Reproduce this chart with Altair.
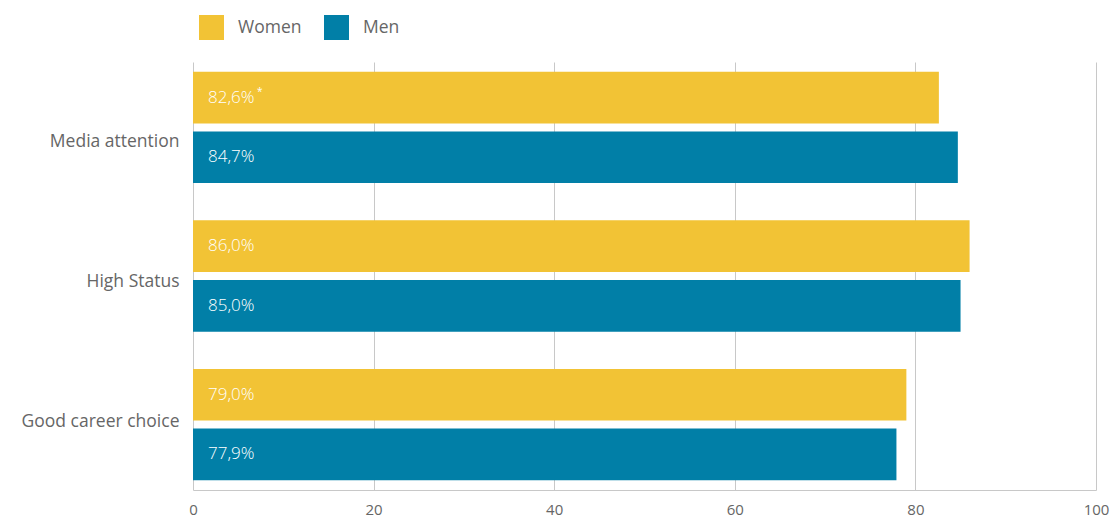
import altair as alt
import pandas as pd

# Survey shares by perception and gender (percent)
categories = ["Media attention", "High Status", "Good career choice"]
genders = ["Women", "Men"]
women_values = [82.6, 86.0, 79.0]
men_values = [84.7, 85.0, 77.9]
women_notes = ["*", "", ""]
men_notes = ["", "", ""]
x_ticks = [0, 20, 40, 60, 80, 100]
colors = ["#F2C335", "#017FA7"]

rows = []
for i, cat in enumerate(categories):
    rows.append({"category": cat, "gender": "Women", "value": women_values[i], "note": women_notes[i]})
    rows.append({"category": cat, "gender": "Men", "value": men_values[i], "note": men_notes[i]})
df = pd.DataFrame(rows)

FONT = "Open Sans"
GREY = "#666666"

y_enc = alt.Y(
    "category:N",
    sort=categories,
    scale=alt.Scale(paddingInner=0.25, paddingOuter=0.065),
    axis=alt.Axis(title=None, domain=False, ticks=False, labelPadding=14,
                  labelFontSize=17.5, labelColor=GREY, labelFont=FONT,
                  labelFontWeight=400,
                  labelOffset=alt.expr(
                      "datum.value == 'Media attention' ? 15 : "
                      "datum.value == 'High Status' ? 6 : -3")),
)
yoff_enc = alt.YOffset("gender:N", sort=genders,
                       scale=alt.Scale(paddingInner=0.134, paddingOuter=0))

base = alt.Chart(df).encode(y=y_enc, yOffset=yoff_enc)

bars = base.mark_bar().encode(
    x=alt.X(
        "value:Q",
        scale=alt.Scale(domain=[0, 100], nice=False),
        axis=alt.Axis(title=None, values=x_ticks, ticks=False, domain=True,
                      domainColor="#c8c8c8", gridColor="#c8c8c8", grid=True,
                      labelFlush=False, labelPadding=12, labelFontSize=15,
                      labelColor=GREY, labelFont=FONT, labelFontWeight=400),
    ),
    color=alt.Color(
        "gender:N",
        sort=genders,
        scale=alt.Scale(domain=genders, range=colors),
        legend=alt.Legend(title=None, orient="none", direction="horizontal",
                          legendX=6, legendY=-47, symbolType="square",
                          symbolSize=625, symbolStrokeWidth=0, symbolOpacity=1,
                          labelFontSize=17.5, labelColor=GREY, labelFont=FONT,
                          labelFontWeight=400, labelOffset=14, columnPadding=22),
    ),
)

labels = base.transform_calculate(
    label="replace(format(datum.value, '.1f'), '.', ',') + '%'"
).mark_text(align="left", baseline="middle", dx=15, color="white",
            fontSize=17, font=FONT, fontWeight=300).encode(
    x=alt.datum(0),
    text="label:N",
)

notes = base.mark_text(align="left", baseline="middle", dx=64, dy=-6,
                       color="white", fontSize=10, font=FONT).encode(
    x=alt.datum(0),
    text="note:N",
)

chart = alt.layer(bars, labels, notes).properties(
    width=903, height=428,
    autosize=alt.AutoSizeParams(type="none"),
    padding={"left": 193, "top": 62, "right": 14, "bottom": 30},
).configure_view(stroke=None)

chart.save("out.html", embed_options={"renderer": "svg", "actions": False})
